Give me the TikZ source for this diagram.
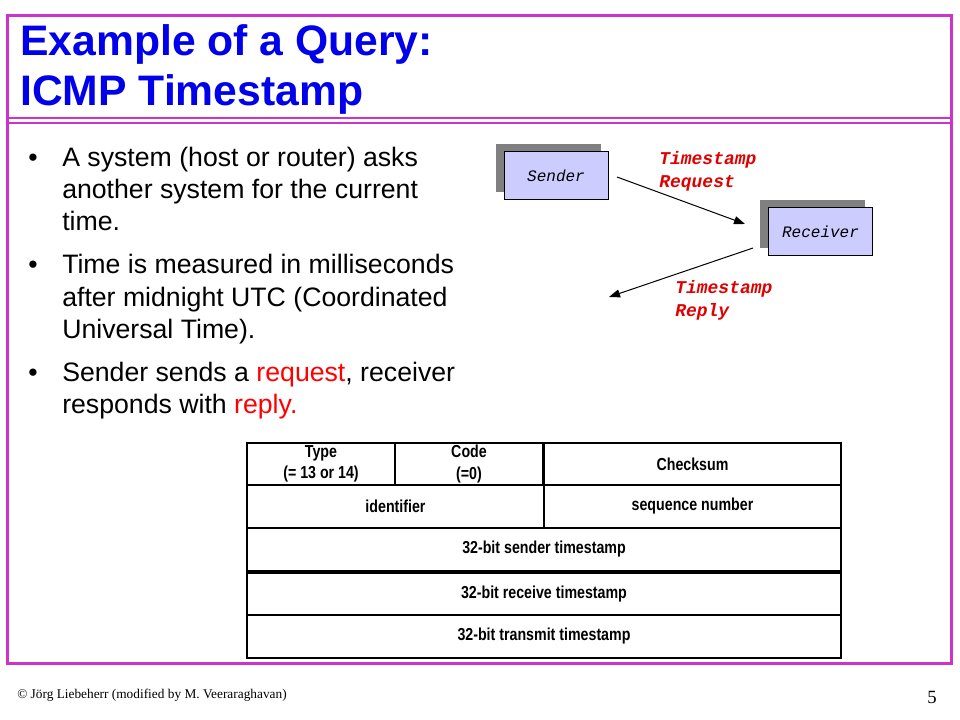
\documentclass[tikz,border=0pt]{standalone}
\usepackage{fontspec}
\setmainfont{Liberation Sans}
\newfontfamily\monof{Liberation Mono}
\newfontfamily\seriff{Liberation Serif}
\newfontfamily\narrowf[FakeStretch=0.82]{Liberation Sans}
\usetikzlibrary{arrows.meta}
\definecolor{frameM}{RGB}{204,51,204}
\definecolor{titleB}{RGB}{0,0,235}
\definecolor{boxF}{RGB}{204,204,255}
\definecolor{shadowG}{RGB}{128,128,128}
\definecolor{labR}{RGB}{225,0,0}
\definecolor{hiR}{RGB}{255,0,0}
\def\px{0.75pt}
\tikzset{
  titletxt/.style={anchor=base west, inner sep=0, text=titleB, font=\fontsize{32}{38}\selectfont\bfseries},
  bultxt/.style={anchor=base west, inner sep=0, font=\fontsize{20}{24}\selectfont},
  hostbox/.style={draw=black, line width=1*\px, fill=boxF, inner sep=0, font=\fontsize{12}{14}\selectfont\monof\itshape},
  shadowbox/.style={fill=shadowG, draw=none, inner sep=0},
  msglab/.style={anchor=base west, inner sep=0, text=labR, font=\fontsize{13.5}{16}\selectfont\monof\bfseries\itshape},
  cell/.style={draw=black, line width=2*\px, inner sep=0, align=center, font=\fontsize{13}{15}\selectfont\narrowf\bfseries},
  msgarrow/.style={draw=black, line width=1*\px, -{Triangle[length=11*\px, width=8*\px]}},
}
\begin{document}
\begin{tikzpicture}[x=0.75pt, y=-0.75pt]
\useasboundingbox (0,0) rectangle (960,720);
% frame
\draw[frameM, line width=2.5*\px] (7.5,15.5) rectangle (951.5,663.5);
\draw[frameM, line width=2*\px] (7.5,118.3) -- (951.5,118.3);
\draw[frameM, line width=2*\px] (7.5,122.7) -- (951.5,122.7);
% title
\node[titletxt] (t1) at (20,56) {Example of a Query:};
\node[titletxt] (t2) at (20,106) {ICMP Timestamp};
% bullets
\node[bultxt] (b1) at (28,167) {•};
\node[bultxt] (l11) at (62,167) {A system (host or router) asks};
\node[bultxt] (l12) at (62,199) {another system for the current};
\node[bultxt] (l13) at (62,231) {time.};
\node[bultxt] (b2) at (28,274) {•};
\node[bultxt] (l21) at (62,274) {Time is measured in milliseconds};
\node[bultxt] (l22) at (62,306) {after midnight UTC (Coordinated};
\node[bultxt] (l23) at (62,338) {Universal Time).};
\node[bultxt] (b3) at (28,381) {•};
\node[bultxt] (l31) at (62,381) {Sender sends a \textcolor{hiR}{request}, receiver};
\node[bultxt] (l32) at (62,413) {responds with \textcolor{hiR}{reply.}};
% sender / receiver
\node[shadowbox, minimum width=105*\px, minimum height=48*\px] (ssh) at (548.5,168) {};
\node[hostbox, minimum width=104*\px, minimum height=48*\px] (snd) at (556,176) {Sender};
\node[shadowbox, minimum width=105*\px, minimum height=48*\px] (rsh) at (812.5,224) {};
\node[hostbox, minimum width=104*\px, minimum height=48*\px] (rcv) at (820.5,232) {Receiver};
\coordinate (a1s) at (617,177);
\coordinate (a1e) at (745,224);
\coordinate (a2s) at (753,248);
\coordinate (a2e) at (609,297);
\draw[msgarrow] (a1s) -- (a1e);
\draw[msgarrow] (a2s) -- (a2e);
\node[msglab] (rq1) at (659,165) {Timestamp};
\node[msglab] (rq2) at (659,188) {Request};
\node[msglab] (rp1) at (675,293) {Timestamp};
\node[msglab] (rp2) at (675,316) {Reply};
% header table
\node[cell, minimum width=148*\px, minimum height=42*\px] (ctype) at (321,464) {Type\\[1pt](= 13 or 14)};
\node[cell, minimum width=148*\px, minimum height=42*\px] (ccode) at (469,464) {Code\\[1pt](=0)};
\node[cell, minimum width=297*\px, minimum height=42*\px] (csum) at (692.5,464) {Checksum};
\node[cell, minimum width=297*\px, minimum height=43*\px] (cid) at (395.5,506.5) {identifier};
\node[cell, minimum width=297*\px, minimum height=43*\px] (cseq) at (692.5,506.5) {sequence number};
\node[cell, minimum width=594*\px, minimum height=43*\px] (cst) at (544,549.5) {32-bit sender timestamp};
\node[cell, minimum width=594*\px, minimum height=42*\px] (crt) at (544,594) {32-bit receive timestamp};
\node[cell, minimum width=594*\px, minimum height=43*\px] (ctt) at (544,636.5) {32-bit transmit timestamp};
% footer
\node[anchor=base west, inner sep=0, font=\fontsize{10}{12}\selectfont\seriff] (foot) at (17,698) {© Jörg Liebeherr (modified by M. Veeraraghavan)};
\node[anchor=base east, inner sep=0, font=\fontsize{14}{16}\selectfont\seriff] (pg) at (937,703) {5};
\end{tikzpicture}
\end{document}
